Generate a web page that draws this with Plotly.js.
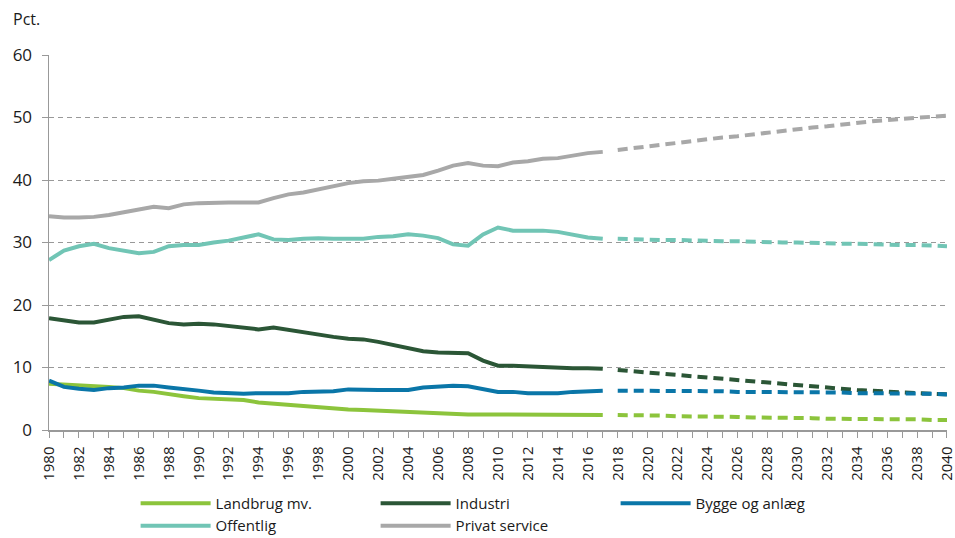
<!DOCTYPE html>
<html>
<head>
<meta charset="utf-8">
<script src="https://cdn.plot.ly/plotly-3.0.1.min.js"></script>
<style>html,body{margin:0;padding:0;background:#fff;}#chart{width:955px;height:538px;}</style>
</head>
<body>
<div id="chart"></div>
<script>
// Historical years 1980-2017, projection years 2018-2040
var histYears = [1980,1981,1982,1983,1984,1985,1986,1987,1988,1989,1990,1991,1992,1993,1994,1995,1996,1997,1998,1999,2000,2001,2002,2003,2004,2005,2006,2007,2008,2009,2010,2011,2012,2013,2014,2015,2016,2017];
var projYears = [2018,2019,2020,2021,2022,2023,2024,2025,2026,2027,2028,2029,2030,2031,2032,2033,2034,2035,2036,2037,2038,2039,2040];

var seriesNames = ["Landbrug mv.", "Industri", "Bygge og anlæg", "Offentlig", "Privat service"];

var landbrugHist = [7.4,7.3,7.2,7.1,6.9,6.7,6.3,6.1,5.7,5.4,5.1,5.0,5.0,4.8,4.4,4.2,4.0,3.8,3.6,3.4,3.3,3.2,3.1,3.0,2.9,2.7,2.6,2.5,2.5,2.5,2.5,2.5,2.5,2.4,2.5,2.5,2.5,2.4];
var landbrugProj = [2.4,2.4,2.3,2.3,2.2,2.2,2.1,2.1,2.1,2.0,2.0,1.9,1.9,1.9,1.8,1.8,1.8,1.8,1.7,1.7,1.7,1.6,1.6];

var industriHist = [17.9,17.5,17.2,17.2,17.7,18.1,18.2,17.6,17.1,16.9,17.0,16.9,16.6,16.4,16.1,16.4,16.0,15.6,15.3,14.9,14.6,14.5,14.1,13.6,13.0,12.6,12.4,12.4,12.3,11.1,10.3,10.3,10.2,10.0,10.0,9.9,9.9,9.8];
var industriProj = [9.6,9.4,9.2,9.0,8.8,8.5,8.3,8.1,7.9,7.7,7.5,7.3,7.1,7.0,6.8,6.6,6.4,6.3,6.1,6.0,5.9,5.8,5.7];

var byggeHist = [7.9,6.9,6.6,6.4,6.7,6.8,7.1,7.1,6.8,6.6,6.3,6.0,5.9,5.8,5.9,5.9,5.9,6.1,6.2,6.2,6.5,6.4,6.4,6.4,6.4,6.8,7.0,7.1,7.0,6.5,6.1,6.1,5.9,5.9,5.9,6.1,6.2,6.3];
var byggeProj = [6.3,6.3,6.3,6.3,6.2,6.2,6.2,6.2,6.1,6.1,6.1,6.1,6.0,6.0,6.0,6.0,5.9,5.9,5.9,5.8,5.8,5.8,5.7];

var offentligHist = [27.2,28.7,29.4,29.8,29.1,28.7,28.3,28.5,29.4,29.6,29.6,30.0,30.3,30.8,31.3,30.5,30.4,30.6,30.7,30.6,30.6,30.6,30.9,31.0,31.3,31.1,30.7,29.7,29.5,31.3,32.4,31.9,31.9,31.9,31.7,31.2,30.8,30.6];
var offentligProj = [30.6,30.5,30.5,30.4,30.4,30.3,30.3,30.2,30.2,30.1,30.1,30.0,30.0,29.9,29.9,29.8,29.8,29.7,29.7,29.6,29.6,29.5,29.4];

var privatHist = [34.2,34.0,34.0,34.1,34.4,34.8,35.2,35.7,35.5,36.1,36.3,36.4,36.4,36.4,36.4,37.1,37.7,38.0,38.5,39.0,39.5,39.8,39.9,40.2,40.5,40.8,41.5,42.3,42.7,42.3,42.2,42.8,43.0,43.4,43.5,43.9,44.3,44.5];
var privatProj = [44.8,45.1,45.4,45.7,46.0,46.2,46.5,46.8,47.0,47.3,47.6,47.9,48.1,48.4,48.6,48.9,49.1,49.4,49.6,49.8,50.0,50.1,50.3];

var colors = ["#8CC43C", "#2B5636", "#0A76A8", "#71C5B5", "#A8A8A8"];
var hist = [landbrugHist, industriHist, byggeHist, offentligHist, privatHist];
var proj = [landbrugProj, industriProj, byggeProj, offentligProj, privatProj];

var traces = [];
for (var i = 0; i < seriesNames.length; i++) {
  traces.push({
    x: histYears, y: hist[i], type: "scatter", mode: "lines",
    name: seriesNames[i], legendgroup: seriesNames[i],
    line: {color: colors[i], width: 4}
  });
}
for (var j = 0; j < seriesNames.length; j++) {
  traces.push({
    x: projYears, y: proj[j], type: "scatter", mode: "lines",
    name: seriesNames[j], legendgroup: seriesNames[j], showlegend: false,
    line: {color: colors[j], width: 4, dash: "10px,6px"}
  });
}

var font = "'Open Sans', 'Noto Sans', sans-serif";
var layout = {
  width: 955, height: 538,
  margin: {l: 49, r: 8, t: 55, b: 108, autoexpand: false},
  paper_bgcolor: "#fff", plot_bgcolor: "#fff",
  font: {family: font, size: 15, color: "#1a1a1a"},
  showlegend: true,
  xaxis: {
    range: [1979.999, 2040.001], tick0: 1980, dtick: 2,
    tickangle: -90, tickfont: {size: 15, color: "#1a1a1a"},
    ticklabeloverflow: "allow", ticklabelstandoff: 3,
    ticks: "outside", ticklen: 6, tickcolor: "#999", tickwidth: 1,
    minor: {dtick: 1, ticks: "outside", ticklen: 6, tickcolor: "#999", showgrid: false},
    showline: true, linecolor: "#999", linewidth: 1.5,
    showgrid: false, zeroline: false, fixedrange: true, automargin: false
  },
  yaxis: {
    range: [0, 60], dtick: 10,
    ticks: "outside", ticklen: 6, tickcolor: "#999",
    tickfont: {size: 17, color: "#1a1a1a"}, ticklabelstandoff: 6,
    showline: true, linecolor: "#999", linewidth: 1.5,
    showgrid: true, gridcolor: "#999", gridwidth: 1, griddash: "5px,4px",
    zeroline: false, fixedrange: true, automargin: false
  },
  legend: {
    orientation: "h", xref: "container", yref: "container",
    x: 0.142, xanchor: "left", y: 0.095, yanchor: "top",
    entrywidth: 155, entrywidthmode: "pixels", itemwidth: 70,
    font: {size: 15, color: "#1a1a1a"}, traceorder: "normal",
    bgcolor: "rgba(0,0,0,0)"
  },
  annotations: [{
    text: "Pct.", xref: "paper", yref: "paper", x: -0.042, y: 1.096,
    xanchor: "left", yanchor: "middle", showarrow: false,
    font: {size: 16, color: "#1a1a1a"}
  }]
};

Plotly.newPlot("chart", traces, layout, {displayModeBar: false, staticPlot: true});
</script>
</body>
</html>
